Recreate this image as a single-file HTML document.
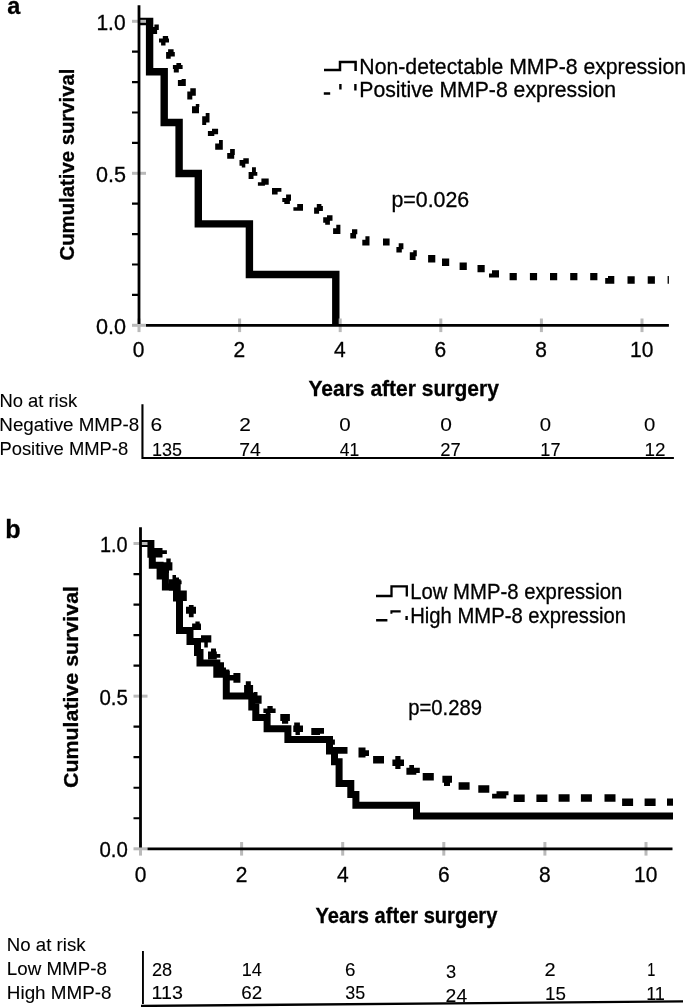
<!DOCTYPE html><html><head><meta charset="utf-8"><style>html,body{margin:0;padding:0;background:#fff;overflow:hidden}svg{display:block;will-change:transform}text{font-family:"Liberation Sans",sans-serif;fill:#000;stroke:#000;stroke-width:0.3px}</style></head><body>
<svg width="685" height="1007" viewBox="0 0 685 1007">
<rect width="685" height="1007" fill="#fff"/>
<text x="7.20" y="13.50" font-size="24" font-weight="bold" textLength="13.06" lengthAdjust="spacingAndGlyphs">a</text>
<path d="M139,21.5 H149.6 V71.8 H164.2 V122.5 H179.1 V173.5 H198.3 V223.9 H249.4 V274.5 H335.8 V325" fill="none" stroke="#000" stroke-width="7.4" stroke-linejoin="miter"/>
<path fill="#000" d="M154.40,24.60h4.40v5.30h-4.40zM152.60,27.00h4.50v7.00h-4.50zM162.80,36.00h5.30v2.50h-5.30zM159.00,38.40h10.00v4.00h-10.00zM161.10,42.40h4.40v3.20h-4.40zM168.10,49.20h5.50v3.00h-5.50zM166.10,52.10h8.70v4.40h-8.70zM166.10,56.50h4.60v2.30h-4.60zM176.40,63.00h4.70v2.00h-4.70zM172.90,65.00h9.70v4.10h-9.70zM173.80,69.10h5.00v3.50h-5.00zM177.90,80.00h7.90v6.00h-7.90zM181.60,79.00h4.20v1.20h-4.20zM190.30,88.20h5.50v7.60h-5.50zM187.30,91.40h5.00v8.20h-5.00zM192.00,106.30h7.00v7.00h-7.00zM195.80,104.00h3.50v3.00h-3.50zM205.70,113.00h3.80v9.40h-3.80zM202.20,116.20h4.00v8.80h-4.00zM212.00,128.70h6.10v5.60h-6.10zM207.90,131.00h6.40v5.00h-6.40zM219.00,140.10h3.80v9.60h-3.80zM215.20,143.60h7.60v6.10h-7.60zM230.10,148.90h4.70v6.00h-4.70zM227.20,153.00h7.00v5.80h-7.00zM243.30,158.20h5.50v5.60h-5.50zM239.50,160.00h5.80v5.80h-5.80zM241.80,165.80h3.50v1.80h-3.50zM252.00,167.30h3.90v4.70h-3.90zM248.60,172.00h8.70v3.70h-8.70zM248.60,175.70h4.90v3.30h-4.90zM261.40,178.60h7.30v6.20h-7.30zM257.90,182.20h7.00v3.50h-7.00zM272.00,187.90h9.40v3.80h-9.40zM272.00,191.70h5.60v2.90h-5.60zM286.10,194.60h4.90v6.20h-4.90zM282.30,198.10h7.60v3.80h-7.60zM284.30,201.90h5.60v2.10h-5.60zM297.20,204.00h5.80v6.70h-5.80zM293.40,207.20h9.60v3.50h-9.60zM316.80,204.10h4.60v2.20h-4.60zM316.80,206.10h6.10v5.00h-6.10zM314.10,207.60h5.00v6.10h-5.00zM327.00,215.20h5.50v5.50h-5.50zM323.20,217.20h6.70v5.60h-6.70zM325.20,222.80h4.70v2.00h-4.70zM336.30,224.80h4.10v4.00h-4.10zM333.10,228.30h7.30v5.60h-7.30zM352.00,229.30h5.30v5.00h-5.30zM350.30,233.00h5.80v5.60h-5.80zM365.40,236.30h4.10v9.30h-4.10zM362.30,239.80h7.20v5.80h-7.20zM383.00,238.60h6.60v7.00h-6.60zM398.70,243.30h4.70v6.00h-4.70zM396.40,247.00h5.40v5.60h-5.40zM413.30,250.30h3.50v6.00h-3.50zM409.80,252.30h5.80v7.60h-5.80zM489.00,273.40h10.00v4.10h-10.00zM492.00,270.30h7.00v7.20h-7.00zM605.20,278.00h9.10v5.80h-9.10zM608.00,276.10h6.30v7.70h-6.30zM428.10,255.10h7.20v7.40h-7.20zM442.00,258.60h7.20v7.40h-7.20zM459.60,262.50h7.20v7.40h-7.20zM477.50,264.90h7.20v7.40h-7.20zM509.60,272.90h7.20v7.40h-7.20zM529.90,272.90h7.20v7.40h-7.20zM550.00,272.90h7.20v7.40h-7.20zM570.20,272.90h7.20v7.40h-7.20zM590.20,272.90h7.20v7.40h-7.20zM627.50,276.30h7.20v7.40h-7.20zM647.70,276.30h7.20v7.40h-7.20zM667.60,276.00h1.30v7.80h-1.30zM132.00,50.60h7.00v2.20h-7.00zM132.00,81.00h7.00v2.20h-7.00zM132.00,111.40h7.00v2.20h-7.00zM132.00,141.80h7.00v2.20h-7.00zM132.00,202.60h7.00v2.20h-7.00zM132.00,233.00h7.00v2.20h-7.00zM132.00,263.40h7.00v2.20h-7.00zM132.00,293.80h7.00v2.20h-7.00z"/>
<rect x="132.00" y="19.80" width="14.00" height="3.00" fill="#bababa"/>
<rect x="132.00" y="171.80" width="14.00" height="3.00" fill="#bababa"/>
<rect x="132.00" y="323.80" width="14.00" height="3.00" fill="#bababa"/>
<rect x="137.50" y="318.50" width="3.00" height="13.60" fill="#bababa"/>
<rect x="238.10" y="318.50" width="3.00" height="13.60" fill="#bababa"/>
<rect x="338.70" y="318.50" width="3.00" height="13.60" fill="#bababa"/>
<rect x="439.30" y="318.50" width="3.00" height="13.60" fill="#bababa"/>
<rect x="539.90" y="318.50" width="3.00" height="13.60" fill="#bababa"/>
<rect x="640.50" y="318.50" width="3.00" height="13.60" fill="#bababa"/>
<path fill="#000" d="M137.60,5.30h2.80v318.80h-2.80zM146.00,323.90h522.90v2.80h-522.90z"/>
<text x="96.43" y="29.70" font-size="21.8" textLength="29.16" lengthAdjust="spacingAndGlyphs">1.0</text>
<text x="96.04" y="181.80" font-size="21.8" textLength="30.03" lengthAdjust="spacingAndGlyphs">0.5</text>
<text x="95.93" y="333.50" font-size="21.8" textLength="30.08" lengthAdjust="spacingAndGlyphs">0.0</text>
<text x="132.76" y="356.60" font-size="21.8" textLength="11.66" lengthAdjust="spacingAndGlyphs">0</text>
<text x="233.38" y="356.60" font-size="21.8" textLength="11.66" lengthAdjust="spacingAndGlyphs">2</text>
<text x="334.04" y="356.60" font-size="21.8" textLength="11.66" lengthAdjust="spacingAndGlyphs">4</text>
<text x="434.50" y="356.60" font-size="21.8" textLength="11.66" lengthAdjust="spacingAndGlyphs">6</text>
<text x="535.18" y="356.60" font-size="21.8" textLength="11.66" lengthAdjust="spacingAndGlyphs">8</text>
<text x="630.07" y="356.60" font-size="21.8" textLength="23.32" lengthAdjust="spacingAndGlyphs">10</text>
<text x="308.43" y="395.50" font-size="21.3" font-weight="bold" textLength="190.50" lengthAdjust="spacingAndGlyphs">Years after surgery</text>
<text transform="translate(73.50,0) rotate(-90)" x="-260.51" y="0" font-size="21" font-weight="bold" textLength="191.96" lengthAdjust="spacingAndGlyphs">Cumulative survival</text>
<path d="M324,70 H340 V62 H355.6 V71" fill="none" stroke="#000" stroke-width="2.5"/>
<text x="359.35" y="73.70" font-size="21.3" textLength="326.66" lengthAdjust="spacingAndGlyphs">Non-detectable MMP-8 expression</text>
<text x="359.35" y="97.10" font-size="21.3" textLength="256.74" lengthAdjust="spacingAndGlyphs">Positive MMP-8 expression</text>
<text x="391.41" y="207.10" font-size="21.4" textLength="77.80" lengthAdjust="spacingAndGlyphs">p=0.026</text>
<text x="-0.62" y="407.00" font-size="18.5" style="stroke-width:0.1px" textLength="77.73" lengthAdjust="spacingAndGlyphs">No at risk</text>
<text x="-0.65" y="430.80" font-size="18.5" style="stroke-width:0.1px" textLength="139.88" lengthAdjust="spacingAndGlyphs">Negative MMP-8</text>
<text x="-0.62" y="455.10" font-size="18.5" style="stroke-width:0.1px" textLength="128.83" lengthAdjust="spacingAndGlyphs">Positive MMP-8</text>
<text x="150.55" y="431.00" font-size="18.8" style="stroke-width:0.1px" textLength="11.66" lengthAdjust="spacingAndGlyphs">6</text>
<text x="239.26" y="431.00" font-size="18.8" style="stroke-width:0.1px" textLength="11.61" lengthAdjust="spacingAndGlyphs">2</text>
<text x="339.38" y="431.00" font-size="18.8" style="stroke-width:0.1px" textLength="11.41" lengthAdjust="spacingAndGlyphs">0</text>
<text x="440.36" y="431.00" font-size="18.8" style="stroke-width:0.1px" textLength="11.65" lengthAdjust="spacingAndGlyphs">0</text>
<text x="539.79" y="431.00" font-size="18.8" style="stroke-width:0.1px" textLength="11.30" lengthAdjust="spacingAndGlyphs">0</text>
<text x="643.99" y="431.00" font-size="18.8" style="stroke-width:0.1px" textLength="11.30" lengthAdjust="spacingAndGlyphs">0</text>
<text x="152.05" y="455.50" font-size="18.8" style="stroke-width:0.1px" textLength="30.09" lengthAdjust="spacingAndGlyphs">135</text>
<text x="239.28" y="455.50" font-size="18.8" style="stroke-width:0.1px" textLength="21.60" lengthAdjust="spacingAndGlyphs">74</text>
<text x="339.81" y="455.50" font-size="18.8" style="stroke-width:0.1px" textLength="19.47" lengthAdjust="spacingAndGlyphs">41</text>
<text x="440.28" y="455.50" font-size="18.8" style="stroke-width:0.1px" textLength="20.48" lengthAdjust="spacingAndGlyphs">27</text>
<text x="540.34" y="455.50" font-size="18.8" style="stroke-width:0.1px" textLength="20.21" lengthAdjust="spacingAndGlyphs">17</text>
<text x="644.48" y="455.50" font-size="18.8" style="stroke-width:0.1px" textLength="21.00" lengthAdjust="spacingAndGlyphs">12</text>
<text x="5.37" y="537.50" font-size="25" font-weight="bold" textLength="15.36" lengthAdjust="spacingAndGlyphs">b</text>
<path d="M140.5,543.5 H150.9 V554.3 H152.3 V565.2 H160.1 V576.1 H165.4 V587 H176.5 V598 H179.5 V630.6 H190 V641.5 H197.5 V652.5 H200 V663.1 H216.8 V674.3 H226.3 V696 H251.8 V707.1 H255.8 V717.6 H267.1 V728.8 H287.9 V739.6 H329.5 V750.9 H334.5 V761.8 H339.1 V783.4 H350.8 V794.4 H355.9 V805.3 H416.5 V816 H673" fill="none" stroke="#000" stroke-width="7" stroke-linejoin="miter"/>
<path fill="#000" d="M323.80,92.30h6.40v2.40h-6.40zM339.20,84.10h2.40v5.30h-2.40zM354.20,84.10h2.40v6.40h-2.40zM141.40,404.30h2.10v54.30h-2.10zM141.40,456.90h532.50v2.20h-532.50zM153.50,548.10h9.00v9.40h-9.00zM162.50,550.20h4.40v3.80h-4.40zM166.30,558.40h4.40v3.80h-4.40zM163.00,562.20h9.40v8.40h-9.40zM163.00,565.00h6.00v8.00h-6.00zM172.50,574.90h3.50v5.00h-3.50zM172.50,577.60h6.50v3.00h-6.50zM168.90,579.30h11.80v11.10h-11.80zM180.70,580.50h0.90v3.80h-0.90zM176.00,590.40h10.80v10.50h-10.80zM186.00,606.80h10.00v7.00h-10.00zM188.90,605.00h4.70v12.30h-4.70zM192.10,623.50h8.80v6.30h-8.80zM195.40,621.40h4.30v4.00h-4.30zM192.10,625.00h8.90v5.00h-8.90zM201.00,635.20h10.30v7.30h-10.30zM204.30,642.50h3.50v5.00h-3.50zM211.00,648.50h5.00v3.20h-5.00zM208.00,651.50h8.80v8.00h-8.80zM216.50,654.00h3.80v3.70h-3.80zM220.00,662.30h4.00v9.50h-4.00zM224.00,667.50h2.00v3.30h-2.00zM222.50,669.50h6.80v5.50h-6.80zM233.40,673.00h7.00v9.70h-7.00zM229.00,675.00h5.00v5.40h-5.00zM245.80,681.20h5.00v4.00h-5.00zM244.10,685.00h9.00v8.00h-9.00zM254.00,692.00h3.50v4.00h-3.50zM254.50,695.50h7.10v8.20h-7.10zM267.40,706.00h5.30v3.00h-5.30zM263.40,708.40h12.20v4.60h-12.20zM265.70,713.00h4.70v1.80h-4.70zM280.30,714.10h9.60v7.00h-9.60zM282.00,721.00h6.20v2.70h-6.20zM294.20,722.40h5.70v3.50h-5.70zM293.30,725.50h9.70v6.60h-9.70zM295.50,732.00h4.40v3.00h-4.40zM311.30,728.10h12.70v5.60h-12.70zM311.30,733.50h8.70v1.60h-8.70zM332.70,739.50h2.20v5.30h-2.20zM332.70,747.00h14.80v6.80h-14.80zM458.60,782.15h11.00v7.50h-11.00zM478.30,785.15h11.00v7.50h-11.00zM513.70,794.55h11.00v7.50h-11.00zM536.40,794.55h11.00v7.50h-11.00zM558.60,794.35h11.00v7.50h-11.00zM580.90,794.35h11.00v7.50h-11.00zM604.50,794.35h11.00v7.50h-11.00zM622.10,798.45h11.00v7.50h-11.00zM644.60,798.45h11.00v7.50h-11.00zM358.50,747.60h7.00v10.00h-7.00zM365.50,750.30h3.50v5.80h-3.50zM373.10,756.10h10.90v7.40h-10.90zM395.30,756.10h5.20v12.90h-5.20zM392.40,759.60h11.60v6.40h-11.60zM406.40,767.80h9.90v7.00h-9.90zM409.30,764.90h4.70v3.00h-4.70zM414.00,767.80h5.80v5.20h-5.80zM422.70,773.00h11.10v7.60h-11.10zM442.40,775.80h9.60v7.00h-9.60zM444.00,782.80h6.00v3.30h-6.00zM496.50,791.20h12.00v4.00h-12.00zM492.10,793.80h14.20v4.80h-14.20zM667.00,798.40h6.00v7.40h-6.00zM133.50,572.93h7.00v2.20h-7.00zM133.50,603.46h7.00v2.20h-7.00zM133.50,633.99h7.00v2.20h-7.00zM133.50,664.52h7.00v2.20h-7.00zM133.50,725.58h7.00v2.20h-7.00zM133.50,756.11h7.00v2.20h-7.00zM133.50,786.64h7.00v2.20h-7.00zM133.50,817.17h7.00v2.20h-7.00z"/>
<rect x="133.50" y="542.00" width="14.00" height="3.00" fill="#bababa"/>
<rect x="133.50" y="694.65" width="14.00" height="3.00" fill="#bababa"/>
<rect x="133.50" y="847.30" width="14.00" height="3.00" fill="#bababa"/>
<rect x="139.00" y="842.00" width="3.00" height="13.60" fill="#bababa"/>
<rect x="240.10" y="842.00" width="3.00" height="13.60" fill="#bababa"/>
<rect x="341.20" y="842.00" width="3.00" height="13.60" fill="#bababa"/>
<rect x="442.30" y="842.00" width="3.00" height="13.60" fill="#bababa"/>
<rect x="543.40" y="842.00" width="3.00" height="13.60" fill="#bababa"/>
<rect x="644.50" y="842.00" width="3.00" height="13.60" fill="#bababa"/>
<path fill="#000" d="M139.10,527.20h2.80v320.40h-2.80zM147.50,847.40h525.00v2.80h-525.00z"/>
<text x="99.91" y="551.60" font-size="21.8" textLength="27.64" lengthAdjust="spacingAndGlyphs">1.0</text>
<text x="99.48" y="704.60" font-size="21.8" textLength="28.44" lengthAdjust="spacingAndGlyphs">0.5</text>
<text x="99.48" y="857.40" font-size="21.8" textLength="28.39" lengthAdjust="spacingAndGlyphs">0.0</text>
<text x="134.66" y="881.90" font-size="21.8" textLength="11.66" lengthAdjust="spacingAndGlyphs">0</text>
<text x="235.78" y="881.90" font-size="21.8" textLength="11.66" lengthAdjust="spacingAndGlyphs">2</text>
<text x="336.94" y="881.90" font-size="21.8" textLength="11.66" lengthAdjust="spacingAndGlyphs">4</text>
<text x="437.90" y="881.90" font-size="21.8" textLength="11.66" lengthAdjust="spacingAndGlyphs">6</text>
<text x="539.08" y="881.90" font-size="21.8" textLength="11.66" lengthAdjust="spacingAndGlyphs">8</text>
<text x="633.97" y="881.90" font-size="21.8" textLength="23.32" lengthAdjust="spacingAndGlyphs">10</text>
<text x="315.45" y="923.00" font-size="21.6" font-weight="bold" textLength="181.88" lengthAdjust="spacingAndGlyphs">Years after surgery</text>
<text transform="translate(78.00,0) rotate(-90)" x="-788.06" y="0" font-size="21" font-weight="bold" textLength="202.08" lengthAdjust="spacingAndGlyphs">Cumulative survival</text>
<path d="M376,596 H391.5 V586.3 H406.8 V596.5" fill="none" stroke="#000" stroke-width="2.3"/>
<text x="410.23" y="599.10" font-size="21.2" textLength="212.11" lengthAdjust="spacingAndGlyphs">Low MMP-8 expression</text>
<text x="410.23" y="623.10" font-size="21.2" textLength="215.90" lengthAdjust="spacingAndGlyphs">High MMP-8 expression</text>
<text x="408.28" y="714.90" font-size="21.4" textLength="73.73" lengthAdjust="spacingAndGlyphs">p=0.289</text>
<text x="6.86" y="950.70" font-size="18.5" style="stroke-width:0.1px" textLength="78.65" lengthAdjust="spacingAndGlyphs">No at risk</text>
<text x="6.85" y="974.70" font-size="18.5" style="stroke-width:0.1px" textLength="99.98" lengthAdjust="spacingAndGlyphs">Low MMP-8</text>
<text x="6.85" y="998.70" font-size="18.5" style="stroke-width:0.1px" textLength="104.69" lengthAdjust="spacingAndGlyphs">High MMP-8</text>
<polygon points="141,1004.8 683,1000.3 683,1002.6 141,1007.1" fill="#000"/>
<text x="151.99" y="975.70" font-size="18.8" style="stroke-width:0.1px" textLength="20.22" lengthAdjust="spacingAndGlyphs">28</text>
<text x="241.75" y="975.70" font-size="18.8" style="stroke-width:0.1px" textLength="20.09" lengthAdjust="spacingAndGlyphs">14</text>
<text x="345.06" y="975.70" font-size="18.8" style="stroke-width:0.1px" textLength="10.46" lengthAdjust="spacingAndGlyphs">6</text>
<text x="445.91" y="978.30" font-size="18.8" style="stroke-width:0.1px" textLength="10.19" lengthAdjust="spacingAndGlyphs">3</text>
<text x="544.60" y="976.20" font-size="18.8" style="stroke-width:0.1px" textLength="11.12" lengthAdjust="spacingAndGlyphs">2</text>
<text x="647.21" y="976.20" font-size="18.8" style="stroke-width:0.1px" textLength="8.10" lengthAdjust="spacingAndGlyphs">1</text>
<text x="151.42" y="999.00" font-size="18.8" style="stroke-width:0.1px" textLength="31.45" lengthAdjust="spacingAndGlyphs">113</text>
<text x="241.36" y="999.00" font-size="18.8" style="stroke-width:0.1px" textLength="20.93" lengthAdjust="spacingAndGlyphs">62</text>
<text x="345.33" y="999.00" font-size="18.8" style="stroke-width:0.1px" textLength="19.93" lengthAdjust="spacingAndGlyphs">35</text>
<text x="445.63" y="1001.50" font-size="18.8" style="stroke-width:0.1px" textLength="21.55" lengthAdjust="spacingAndGlyphs">24</text>
<text x="544.99" y="1000.30" font-size="18.8" style="stroke-width:0.1px" textLength="20.91" lengthAdjust="spacingAndGlyphs">15</text>
<text x="646.14" y="1000.30" font-size="18.8" style="stroke-width:0.1px" textLength="18.83" lengthAdjust="spacingAndGlyphs">11</text>
<path fill="#000" d="M376.10,618.90h11.30v2.60h-11.30zM390.40,610.30h10.30v2.10h-10.30zM390.40,610.30h2.00v3.50h-2.00zM405.40,615.90h2.40v4.10h-2.40zM142.00,950.90h1.90v53.10h-1.90z"/>
</svg></body></html>
